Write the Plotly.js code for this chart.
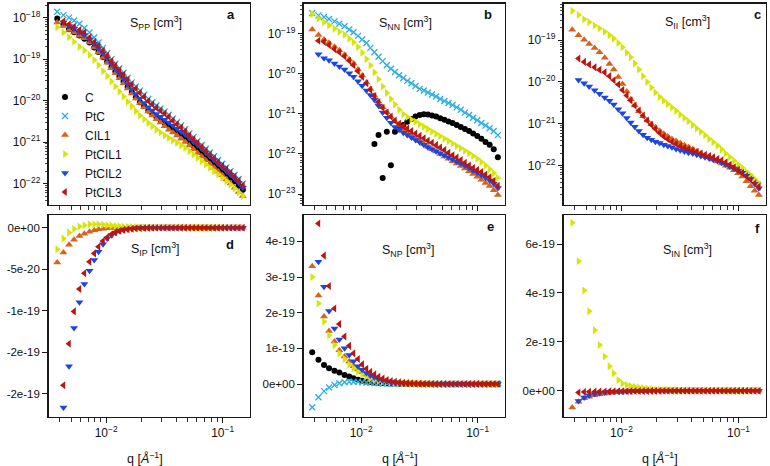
<!DOCTYPE html>
<html>
<head>
<meta charset="utf-8">
<script src="https://cdn.plot.ly/plotly-3.0.1.min.js"></script>
<style>
  html, body { margin: 0; padding: 0; background: #ffffff; }
  #chart { width: 770px; height: 466px; }
</style>
</head>
<body>
<div id="chart"></div>
<script>
// Scattering vector q [1/Å]
const q = [
  0.0038, 0.0043, 0.0048, 0.0053, 0.0059, 0.0065, 0.0072, 0.0079, 0.0086, 0.0094,
  0.0102, 0.0111, 0.0120, 0.0130, 0.0141, 0.0153, 0.0166, 0.0180, 0.0195, 0.0212,
  0.0230, 0.0249, 0.0270, 0.0293, 0.0318, 0.0345, 0.0374, 0.0406, 0.0440, 0.0477,
  0.0518, 0.0562, 0.0609, 0.0661, 0.0717, 0.0778, 0.0844, 0.0915, 0.0993, 0.1077,
  0.1169, 0.1268, 0.1375, 0.1492
];

const samples = ['C', 'PtC', 'CIL1', 'PtCIL1', 'PtCIL2', 'PtCIL3'];

// ---- S_PP, log10 of cm^3 ----
const lgSPP_C = [
  -18.02, -18.16, -18.28, -18.35, -18.43, -18.51, -18.60, -18.72, -18.83, -18.95,
  -19.06, -19.19, -19.30, -19.42, -19.54, -19.67, -19.79, -19.92, -20.04, -20.13,
  -20.24, -20.32, -20.39, -20.46, -20.54, -20.61, -20.68, -20.76, -20.83, -20.90,
  -20.99, -21.08, -21.16, -21.25, -21.34, -21.43, -21.51, -21.60, -21.69, -21.77,
  -21.86, -21.95, -22.05, -22.15
];
const lgSPP_PtC = [
  -17.86, -17.94, -18.00, -18.07, -18.15, -18.25, -18.36, -18.48, -18.60, -18.73,
  -18.86, -19.00, -19.11, -19.22, -19.33, -19.45, -19.56, -19.66, -19.76, -19.86,
  -19.96, -20.04, -20.12, -20.19, -20.26, -20.34, -20.43, -20.52, -20.60, -20.69,
  -20.79, -20.88, -20.97, -21.07, -21.16, -21.25, -21.34, -21.43, -21.52, -21.61,
  -21.70, -21.79, -21.89, -22.00
];
const lgSPP_CIL1 = [
  -18.12, -18.20, -18.30, -18.36, -18.44, -18.50, -18.60, -18.72, -18.84, -18.96,
  -19.09, -19.22, -19.34, -19.46, -19.58, -19.71, -19.83, -19.95, -20.06, -20.16,
  -20.26, -20.36, -20.45, -20.53, -20.62, -20.70, -20.77, -20.84, -20.92, -21.00,
  -21.08, -21.17, -21.26, -21.35, -21.44, -21.53, -21.62, -21.71, -21.80, -21.90,
  -22.00, -22.10, -22.20, -22.30
];
const lgSPP_PtCIL1 = [
  -18.23, -18.36, -18.47, -18.58, -18.70, -18.79, -18.90, -19.02, -19.15, -19.29,
  -19.41, -19.54, -19.66, -19.78, -19.90, -20.03, -20.14, -20.25, -20.36, -20.45,
  -20.54, -20.62, -20.70, -20.77, -20.84, -20.90, -20.96, -21.02, -21.08, -21.14,
  -21.22, -21.30, -21.38, -21.46, -21.54, -21.62, -21.70, -21.78, -21.86, -21.94,
  -22.03, -22.12, -22.21, -22.30
];
const lgSPP_PtCIL2 = [
  null,   -18.12, -18.20, -18.27, -18.35, -18.42, -18.52, -18.63, -18.74, -18.86,
  -18.98, -19.11, -19.23, -19.35, -19.47, -19.60, -19.72, -19.84, -19.95, -20.06,
  -20.16, -20.24, -20.32, -20.39, -20.46, -20.53, -20.60, -20.68, -20.75, -20.82,
  -20.90, -20.99, -21.07, -21.16, -21.25, -21.34, -21.43, -21.52, -21.61, -21.70,
  -21.79, -21.88, -21.98, -22.10
];
const lgSPP_PtCIL3 = [
  null,   -18.09, -18.16, -18.22, -18.30, -18.36, -18.48, -18.59, -18.68, -18.80,
  -18.92, -19.05, -19.16, -19.27, -19.38, -19.50, -19.61, -19.71, -19.81, -19.91,
  -20.01, -20.09, -20.17, -20.24, -20.31, -20.39, -20.48, -20.57, -20.65, -20.74,
  -20.84, -20.93, -21.02, -21.12, -21.21, -21.30, -21.39, -21.48, -21.57, -21.65,
  -21.74, -21.83, -21.93, -22.04
];

// ---- S_NN, log10 of cm^3 (negative C values are not shown) ----
const lgSNN_C = [
  null,   null,   null,   null,   null,   null,   null,   null,   null,   null,
  null,   null,   null,   -21.75, -21.53, -22.60, -21.45, -22.28, -21.45, -21.35,
  -21.28, -21.20, -21.13, -21.07, -21.03, -21.01, -21.02, -21.04, -21.07, -21.11,
  -21.15, -21.19, -21.23, -21.28, -21.33, -21.38, -21.43, -21.49, -21.55, -21.62,
  -21.70, -21.77, -21.88, -22.08
];
const lgSNN_PtC = [
  -18.49, -18.55, -18.59, -18.64, -18.70, -18.76, -18.82, -18.90, -18.97, -19.06,
  -19.15, -19.24, -19.36, -19.47, -19.58, -19.69, -19.79, -19.88, -19.96, -20.04,
  -20.11, -20.18, -20.24, -20.31, -20.38, -20.42, -20.47, -20.52, -20.57, -20.63,
  -20.68, -20.73, -20.78, -20.84, -20.90, -20.97, -21.03, -21.10, -21.16, -21.23,
  -21.29, -21.36, -21.43, -21.53
];
const lgSNN_CIL1 = [
  -18.90, -19.04, -19.15, -19.23, -19.33, -19.42, -19.53, -19.65, -19.75, -19.90,
  -20.05, -20.22, -20.38, -20.55, -20.70, -20.84, -20.96, -21.08, -21.19, -21.30,
  -21.40, -21.47, -21.54, -21.61, -21.68, -21.75, -21.82, -21.88, -21.94, -22.00,
  -22.06, -22.12, -22.18, -22.24, -22.30, -22.36, -22.43, -22.50, -22.57, -22.64,
  -22.72, -22.80, -22.90, -23.02
];
const lgSNN_PtCIL1 = [
  -18.52, -18.63, -18.72, -18.80, -18.88, -18.96, -19.03, -19.13, -19.22, -19.34,
  -19.48, -19.64, -19.80, -19.97, -20.14, -20.32, -20.48, -20.63, -20.77, -20.90,
  -21.01, -21.08, -21.14, -21.20, -21.26, -21.32, -21.38, -21.44, -21.50, -21.56,
  -21.62, -21.68, -21.74, -21.80, -21.86, -21.92, -21.98, -22.05, -22.12, -22.20,
  -22.29, -22.38, -22.48, -22.60
];
const lgSNN_PtCIL2 = [
  null,   -19.52, -19.62, -19.67, -19.75, -19.82, -19.90, -19.99, -20.08, -20.19,
  -20.30, -20.42, -20.53, -20.65, -20.80, -20.97, -21.10, -21.22, -21.33, -21.40,
  -21.47, -21.53, -21.59, -21.65, -21.71, -21.77, -21.83, -21.88, -21.93, -21.98,
  -22.03, -22.08, -22.13, -22.19, -22.24, -22.29, -22.35, -22.41, -22.47, -22.53,
  -22.59, -22.66, -22.74, -22.85
];
const lgSNN_PtCIL3 = [
  null,   -19.18, -19.21, -19.29, -19.39, -19.47, -19.57, -19.68, -19.79, -19.94,
  -20.08, -20.24, -20.40, -20.56, -20.71, -20.85, -20.97, -21.07, -21.17, -21.25,
  -21.31, -21.37, -21.43, -21.49, -21.55, -21.61, -21.67, -21.72, -21.78, -21.84,
  -21.90, -21.97, -22.03, -22.09, -22.15, -22.22, -22.29, -22.35, -22.40, -22.45,
  -22.51, -22.58, -22.67, -22.79
];

// ---- S_II, log10 of cm^3 ----
const lgSII_CIL1 = [
  -18.75, -18.88, -18.99, -19.09, -19.19, -19.29, -19.42, -19.57, -19.70, -19.88,
  -20.05, -20.23, -20.41, -20.56, -20.70, -20.82, -20.92, -21.01, -21.09, -21.17,
  -21.24, -21.30, -21.36, -21.41, -21.46, -21.51, -21.56, -21.61, -21.66, -21.71,
  -21.76, -21.80, -21.85, -21.90, -21.95, -22.00, -22.05, -22.11, -22.18, -22.26,
  -22.37, -22.49, -22.60, -22.70
];
const lgSII_PtCIL1 = [
  -18.30, -18.40, -18.50, -18.57, -18.65, -18.72, -18.80, -18.88, -18.96, -19.07,
  -19.17, -19.30, -19.41, -19.56, -19.70, -19.86, -20.00, -20.13, -20.25, -20.36,
  -20.45, -20.53, -20.61, -20.69, -20.78, -20.86, -20.94, -21.03, -21.11, -21.19,
  -21.27, -21.36, -21.44, -21.52, -21.61, -21.71, -21.80, -21.88, -21.97, -22.05,
  -22.14, -22.22, -22.32, -22.41
];
const lgSII_PtCIL2 = [
  null,   -19.95, -20.03, -20.11, -20.20, -20.28, -20.37, -20.45, -20.54, -20.65,
  -20.75, -20.86, -20.97, -21.07, -21.17, -21.26, -21.33, -21.38, -21.43, -21.46,
  -21.50, -21.53, -21.56, -21.60, -21.63, -21.66, -21.69, -21.71, -21.74, -21.77,
  -21.80, -21.83, -21.86, -21.89, -21.93, -21.97, -22.02, -22.07, -22.12, -22.17,
  -22.24, -22.32, -22.43, -22.54
];
const lgSII_PtCIL3 = [
  null,   -19.44, -19.52, -19.58, -19.65, -19.71, -19.77, -19.86, -19.96, -20.06,
  -20.19, -20.32, -20.44, -20.56, -20.68, -20.80, -20.92, -21.02, -21.12, -21.22,
  -21.30, -21.37, -21.43, -21.48, -21.53, -21.57, -21.60, -21.64, -21.67, -21.71,
  -21.74, -21.77, -21.80, -21.84, -21.87, -21.92, -21.98, -22.04, -22.10, -22.17,
  -22.25, -22.33, -22.42, -22.50
];

// ---- S_IP [cm^3] ----
const SIP_CIL1 = [
  -4.2e-20, -3.0e-20, -2.05e-20, -1.45e-20, -1.0e-20, -7.2e-21, -5.0e-21, -3.2e-21, -2.0e-21, -1.2e-21,
  -6e-22, -3e-22, -1e-22, -5e-23, -2e-23, 0, 0, 0, 0, 0,
  0, 0, 0, 0, 0, 0, 0, 0, 0, 0,
  0, 0, 0, 0, 0, 0, 0, 0, 0, 0,
  0, 0, 0, 0
];
const SIP_PtCIL1 = [
  -2.6e-20, -1.3e-20, -6e-21, -1.5e-21, 1.5e-21, 3e-21, 4e-21, 4.2e-21, 4e-21, 3.5e-21,
  3e-21, 2.5e-21, 2e-21, 1.6e-21, 1.2e-21, 1e-21, 8e-22, 6e-22, 5e-22, 4e-22,
  3e-22, 2.5e-22, 2e-22, 1.5e-22, 1e-22, 8e-23, 6e-23, 5e-23, 4e-23, 3e-23,
  2e-23, 2e-23, 1e-23, 1e-23, 1e-23, 1e-23, 0, 0, 0, 0,
  0, 0, 0, 0
];
const SIP_PtCIL2 = [
  null, -2.17e-19, -1.67e-19, -1.21e-19, -9.0e-20, -6.8e-20, -5.2e-20, -3.9e-20, -2.9e-20, -2.0e-20,
  -1.3e-20, -9e-21, -6e-21, -4e-21, -2.8e-21, -1.8e-21, -1.2e-21, -8e-22, -5e-22, -3e-22,
  -2e-22, -1e-22, -5e-23, -3e-23, -2e-23, -1e-23, 0, 0, 0, 0,
  0, 0, 0, 0, 0, 0, 0, 0, 0, 0,
  0, 0, 0, 0
];
const SIP_PtCIL3 = [
  null, -1.9e-19, -1.4e-19, -1.01e-19, -7.4e-20, -5.5e-20, -4.1e-20, -3.1e-20, -2.3e-20, -1.6e-20,
  -1.15e-20, -8e-21, -5.5e-21, -3.8e-21, -2.6e-21, -1.8e-21, -1.2e-21, -8e-22, -5e-22, -3e-22,
  -2e-22, -1e-22, -5e-23, -3e-23, -2e-23, -1e-23, 0, 0, 0, 0,
  0, 0, 0, 0, 0, 0, 0, 0, 0, 0,
  0, 0, 0, 0
];

// ---- S_NP [cm^3] ----
const SNP_C = [
  8.9e-20, 6.8e-20, 5.3e-20, 4.4e-20, 3.7e-20, 3.2e-20, 2.5e-20, 2.1e-20, 1.6e-20, 1.2e-20,
  9e-21, 7e-21, 5.5e-21, 4.5e-21, 3.5e-21, 2.8e-21, 2.2e-21, 1.7e-21, 1.3e-21, 1e-21,
  8e-22, 6e-22, 5e-22, 4e-22, 3e-22, 2e-22, 1.5e-22, 1e-22, 8e-23, 6e-23,
  5e-23, 4e-23, 3e-23, 2e-23, 2e-23, 1e-23, 1e-23, 1e-23, 0, 0,
  0, 0, 0, 0
];
const SNP_PtC = [
  -6.5e-20, -3.7e-20, -2e-20, -1e-20, -3e-21, 2e-21, 5e-21, 6.5e-21, 6.5e-21, 6e-21,
  5e-21, 4e-21, 3.3e-21, 2.7e-21, 2.1e-21, 1.6e-21, 1.2e-21, 9e-22, 7e-22, 5e-22,
  4e-22, 3e-22, 2e-22, 1.5e-22, 1e-22, 8e-23, 6e-23, 4e-23, 3e-23, 2e-23,
  1e-23, 1e-23, 1e-23, 1e-23, 1e-23, 1e-23, 0, 0, 0, 0,
  0, 0, 0, 0
];
const SNP_CIL1 = [
  3.3e-19, 2.48e-19, 1.89e-19, 1.49e-19, 1.19e-19, 9.5e-20, 7.7e-20, 6.3e-20, 5e-20, 4.1e-20,
  3.3e-20, 2.6e-20, 2e-20, 1.5e-20, 1.1e-20, 8e-21, 6e-21, 4.5e-21, 3e-21, 2e-21,
  1.5e-21, 1e-21, 7e-22, 5e-22, 3e-22, 2e-22, 1.5e-22, 1e-22, 5e-23, 3e-23,
  0, 0, 0, 0, 0, 0, 0, 0, 0, 0,
  0, 0, 0, 0
];
const SNP_PtCIL1 = [
  3.0e-19, 2.26e-19, 1.75e-19, 1.37e-19, 1.09e-19, 8.6e-20, 7e-20, 5.5e-20, 4.4e-20, 3.5e-20,
  2.8e-20, 2.1e-20, 1.6e-20, 1.2e-20, 9e-21, 7e-21, 5e-21, 4e-21, 3e-21, 2e-21,
  1.5e-21, 1e-21, 7e-22, 5e-22, 3e-22, 2e-22, 1.5e-22, 1e-22, 5e-23, 3e-23,
  0, 0, 0, 0, 0, 0, 0, 0, 0, 0,
  0, 0, 0, 0
];
const SNP_PtCIL2 = [
  null, 3.43e-19, 2.73e-19, 2.05e-19, 1.56e-19, 1.25e-19, 1.0e-19, 8.1e-20, 6.4e-20, 5e-20,
  4e-20, 3.1e-20, 2.4e-20, 1.8e-20, 1.3e-20, 1e-20, 7e-21, 5e-21, 4e-21, 3e-21,
  2e-21, 1.5e-21, 1e-21, 7e-22, 5e-22, 3e-22, 2e-22, 1e-22, 5e-23, 3e-23,
  0, 0, 0, 0, 0, 0, 0, 0, 0, 0,
  0, 0, 0, 0
];
const SNP_PtCIL3 = [
  null, 4.5e-19, 3.6e-19, 2.75e-19, 2.12e-19, 1.68e-19, 1.33e-19, 1.07e-19, 8.6e-20, 7e-20,
  5.5e-20, 4.3e-20, 3.4e-20, 2.7e-20, 2e-20, 1.5e-20, 1.1e-20, 8e-21, 6e-21, 4.5e-21,
  3.5e-21, 2.5e-21, 2e-21, 1.5e-21, 1e-21, 7e-22, 5e-22, 3e-22, 2e-22, 1e-22,
  0, 0, 0, 0, 0, 0, 0, 0, 0, 0,
  0, 0, 0, 0
];

// ---- S_IN [cm^3] ----
const SIN_CIL1 = [
  -6.8e-20, -4.5e-20, -3.1e-20, -2.4e-20, -1.8e-20, -1.4e-20, -1.1e-20, -8e-21, -6e-21, -5e-21,
  -4e-21, -3e-21, -2e-21, -1.5e-21, -1e-21, -7e-22, -5e-22, -3e-22, -2e-22, -1e-22,
  0, 0, 0, 0, 0, 0, 0, 0, 0, 0,
  0, 0, 0, 0, 0, 0, 0, 0, 0, 0,
  0, 0, 0, 0
];
const SIN_PtCIL1 = [
  6.87e-19, 5.3e-19, 4.1e-19, 3.25e-19, 2.48e-19, 1.87e-19, 1.4e-19, 1.0e-19, 7.2e-20, 4.4e-20,
  3e-20, 2.4e-20, 1.9e-20, 1.6e-20, 1.3e-20, 1.1e-20, 9e-21, 7e-21, 5.5e-21, 4.5e-21,
  3.5e-21, 2.8e-21, 2.2e-21, 1.8e-21, 1.4e-21, 1.1e-21, 9e-22, 7e-22, 6e-22, 5e-22,
  4e-22, 3e-22, 3e-22, 2e-22, 2e-22, 1e-22, 1e-22, 1e-22, 1e-22, 1e-22,
  0, 0, 0, 0
];
const SIN_PtCIL2 = [
  null, -4.2e-20, -2.7e-20, -1.8e-20, -1.3e-20, -9e-21, -7e-21, -5e-21, -4e-21, -3e-21,
  -2.5e-21, -2e-21, -1.5e-21, -1e-21, -7e-22, -5e-22, -3e-22, -2e-22, -1e-22, -1e-22,
  0, 0, 0, 0, 0, 0, 0, 0, 0, 0,
  0, 0, 0, 0, 0, 0, 0, 0, 0, 0,
  0, 0, 0, 0
];
const SIN_PtCIL3 = [
  null, -7e-21, -5e-21, -4e-21, -3.5e-21, -3e-21, -2.7e-21, -2.4e-21, -2.2e-21, -2e-21,
  -1.8e-21, -1.6e-21, -1.4e-21, -1.2e-21, -1e-21, -8e-22, -6e-22, -5e-22, -4e-22, -3e-22,
  -2e-22, -2e-22, -1e-22, -1e-22, -1e-22, 0, 0, 0, 0, 0,
  0, 0, 0, 0, 0, 0, 0, 0, 0, 0,
  0, 0, 0, 0
];

// Tick labels
const qTickVals = [0.01, 0.1];
const qTickText = ['10<sup>−2</sup>', '10<sup>−1</sup>'];
const logTickVals = [1e-18, 1e-19, 1e-20, 1e-21, 1e-22, 1e-23];
const logTickText = ['10<sup>−18</sup>', '10<sup>−19</sup>', '10<sup>−20</sup>',
                     '10<sup>−21</sup>', '10<sup>−22</sup>', '10<sup>−23</sup>'];

// ---------------------------------------------------------------
const W = 770, H = 466;
const px = x => x / W;
const py = y => 1 - y / H;
const FONT = 'Liberation Sans, Arial, Helvetica, sans-serif';
const INK = '#1a1a1a';

const markerStyle = {
  'C':      { color: '#000000', symbol: 'circle',         size: 6 },
  'PtC':    { color: '#29aee6', symbol: 'x-thin',         size: 6 },
  'CIL1':   { color: '#da6119', symbol: 'triangle-up',    size: 7 },
  'PtCIL1': { color: '#d5e505', symbol: 'triangle-right', size: 7 },
  'PtCIL2': { color: '#1c46e4', symbol: 'triangle-down',  size: 7 },
  'PtCIL3': { color: '#bb150d', symbol: 'triangle-left',  size: 7 }
};

const fromLog = arr => arr.map(v => (v === null ? null : Math.pow(10, v)));

function series(name, y, n, legend) {
  const s = markerStyle[name];
  const marker = { color: s.color, symbol: s.symbol, size: s.size };
  if (s.symbol === 'x-thin') marker.line = { color: s.color, width: 1.3 };
  else marker.line = { width: 0 };
  return {
    type: 'scatter', mode: 'markers', name: name,
    x: q, y: y, xaxis: 'x' + (n === 1 ? '' : n), yaxis: 'y' + (n === 1 ? '' : n),
    marker: marker, showlegend: !!legend, cliponaxis: true
  };
}

const traces = [
  // a: S_PP
  series('C', fromLog(lgSPP_C), 1, true),
  series('PtC', fromLog(lgSPP_PtC), 1, true),
  series('CIL1', fromLog(lgSPP_CIL1), 1, true),
  series('PtCIL1', fromLog(lgSPP_PtCIL1), 1, true),
  series('PtCIL2', fromLog(lgSPP_PtCIL2), 1, true),
  series('PtCIL3', fromLog(lgSPP_PtCIL3), 1, true),
  // b: S_NN
  series('C', fromLog(lgSNN_C), 2),
  series('PtC', fromLog(lgSNN_PtC), 2),
  series('CIL1', fromLog(lgSNN_CIL1), 2),
  series('PtCIL1', fromLog(lgSNN_PtCIL1), 2),
  series('PtCIL2', fromLog(lgSNN_PtCIL2), 2),
  series('PtCIL3', fromLog(lgSNN_PtCIL3), 2),
  // c: S_II
  series('CIL1', fromLog(lgSII_CIL1), 3),
  series('PtCIL1', fromLog(lgSII_PtCIL1), 3),
  series('PtCIL2', fromLog(lgSII_PtCIL2), 3),
  series('PtCIL3', fromLog(lgSII_PtCIL3), 3),
  // d: S_IP
  series('CIL1', SIP_CIL1, 4),
  series('PtCIL1', SIP_PtCIL1, 4),
  series('PtCIL2', SIP_PtCIL2, 4),
  series('PtCIL3', SIP_PtCIL3, 4),
  // e: S_NP
  series('C', SNP_C, 5),
  series('PtC', SNP_PtC, 5),
  series('CIL1', SNP_CIL1, 5),
  series('PtCIL1', SNP_PtCIL1, 5),
  series('PtCIL2', SNP_PtCIL2, 5),
  series('PtCIL3', SNP_PtCIL3, 5),
  // f: S_IN
  series('CIL1', SIN_CIL1, 6),
  series('PtCIL1', SIN_PtCIL1, 6),
  series('PtCIL2', SIN_PtCIL2, 6),
  series('PtCIL3', SIN_PtCIL3, 6)
];

// ---- axes ----
const COLS = [[48.5, 250], [303.5, 505], [563.5, 766]];
const ROWS = [[3.5, 205], [215, 416.7]];

function logMinor(lo, hi) {
  const v = [];
  for (let e = lo; e <= hi; e++) for (let m = 2; m <= 9; m++) v.push(m * Math.pow(10, e));
  return v;
}

function frame() {
  return {
    showline: true, mirror: true, linecolor: INK, linewidth: 1.3,
    showgrid: false, zeroline: false,
    ticks: 'outside', ticklen: 5, tickwidth: 1, tickcolor: INK
  };
}

function xAxis(col, row, n) {
  return Object.assign(frame(), {
    domain: [px(COLS[col][0]), px(COLS[col][1])],
    anchor: 'y' + (n === 1 ? '' : n),
    type: 'log', range: [-2.495, -0.765],
    tickmode: 'array', tickvals: qTickVals, ticktext: qTickText,
    showticklabels: row === 1,
    tickfont: { family: FONT, size: 12, color: '#111' },
    minor: { tickmode: 'array', tickvals: logMinor(-3, -1), ticks: 'outside', ticklen: 3.5, tickwidth: 0.9, tickcolor: INK, showgrid: false }
  });
}

function yLog(col, n, range) {
  return Object.assign(frame(), {
    domain: [py(ROWS[0][1]), py(ROWS[0][0])],
    anchor: 'x' + (n === 1 ? '' : n),
    type: 'log', range: range, ticklen: 4.5,
    tickmode: 'array', tickvals: logTickVals, ticktext: logTickText,
    tickfont: { family: FONT, size: 12, color: '#111' },
    minor: { tickmode: 'array', tickvals: logMinor(-24, -18), ticks: 'outside', ticklen: 2.5, tickwidth: 0.8, tickcolor: INK, showgrid: false }
  });
}

function yLin(col, n, range, vals, text) {
  return Object.assign(frame(), {
    domain: [py(ROWS[1][1]), py(ROWS[1][0])],
    anchor: 'x' + (n === 1 ? '' : n),
    type: 'linear', range: range,
    tickmode: 'array', tickvals: vals, ticktext: text,
    tickfont: { family: FONT, size: 11.5, color: '#111' }
  });
}

const layout = {
  width: W, height: H,
  margin: { l: 0, r: 0, t: 0, b: 0, pad: 0 },
  paper_bgcolor: '#ffffff', plot_bgcolor: '#ffffff',
  font: { family: FONT, size: 12, color: '#111' },
  showlegend: true,
  legend: {
    x: px(45), y: py(82.5), xanchor: 'left', yanchor: 'top',
    bgcolor: 'rgba(0,0,0,0)', borderwidth: 0,
    font: { family: FONT, size: 12, color: '#111' },
    itemwidth: 30, tracegroupgap: 0
  },
  xaxis:  xAxis(0, 0, 1),
  xaxis2: xAxis(1, 0, 2),
  xaxis3: xAxis(2, 0, 3),
  xaxis4: xAxis(0, 1, 4),
  xaxis5: xAxis(1, 1, 5),
  xaxis6: xAxis(2, 1, 6),
  yaxis:  yLog(0, 1, [-22.516, -17.66]),
  yaxis2: yLog(1, 2, [-23.27, -18.255]),
  yaxis3: yLog(2, 3, [-22.94, -18.124]),
  yaxis4: yLin(0, 4, [-2.28e-19, 1.53e-20],
               [0, -5e-20, -1e-19, -1.5e-19, -2e-19],
               ['0e+00', '-5e-20', '-1e-19', '-2e-19', '-2e-19']),
  yaxis5: yLin(1, 5, [-0.917e-19, 4.74e-19],
               [0, 1e-19, 2e-19, 3e-19, 4e-19],
               ['0e+00', '1e-19', '2e-19', '3e-19', '4e-19']),
  yaxis6: yLin(2, 6, [-1.06e-19, 7.19e-19],
               [0, 2e-19, 4e-19, 6e-19],
               ['0e+00', '2e-19', '4e-19', '6e-19']),
  annotations: []
};

function note(text, x, y, opts) {
  layout.annotations.push(Object.assign({
    text: text, xref: 'paper', yref: 'paper', x: px(x), y: py(y),
    xanchor: 'center', yanchor: 'middle', showarrow: false,
    font: { family: FONT, size: 12.5, color: '#111' }
  }, opts || {}));
}

// panel titles
note('S<sub>PP</sub> [cm<sup>3</sup>]', 156, 23);
note('S<sub>NN</sub> [cm<sup>3</sup>]', 405, 23);
note('S<sub>II</sub> [cm<sup>3</sup>]', 687, 22);
note('S<sub>IP</sub> [cm<sup>3</sup>]', 155, 249);
note('S<sub>NP</sub> [cm<sup>3</sup>]', 408, 250);
note('S<sub>IN</sub> [cm<sup>3</sup>]', 687, 250);

// panel letters
const bold = { family: FONT, size: 13, color: '#111' };
note('<b>a</b>', 231, 15, { font: bold });
note('<b>b</b>', 488, 15, { font: bold });
note('<b>c</b>', 757, 15, { font: bold });
note('<b>d</b>', 230, 245, { font: bold });
note('<b>e</b>', 490, 226, { font: bold });
note('<b>f</b>', 757, 228, { font: bold });

// x-axis titles
const qTitle = 'q [<i>Å</i><sup>−1</sup>]';
note(qTitle, 145, 458);
note(qTitle, 400, 458);
note(qTitle, 660, 458);

Plotly.newPlot('chart', traces, layout, { displayModeBar: false, staticPlot: true });
</script>
</body>
</html>
